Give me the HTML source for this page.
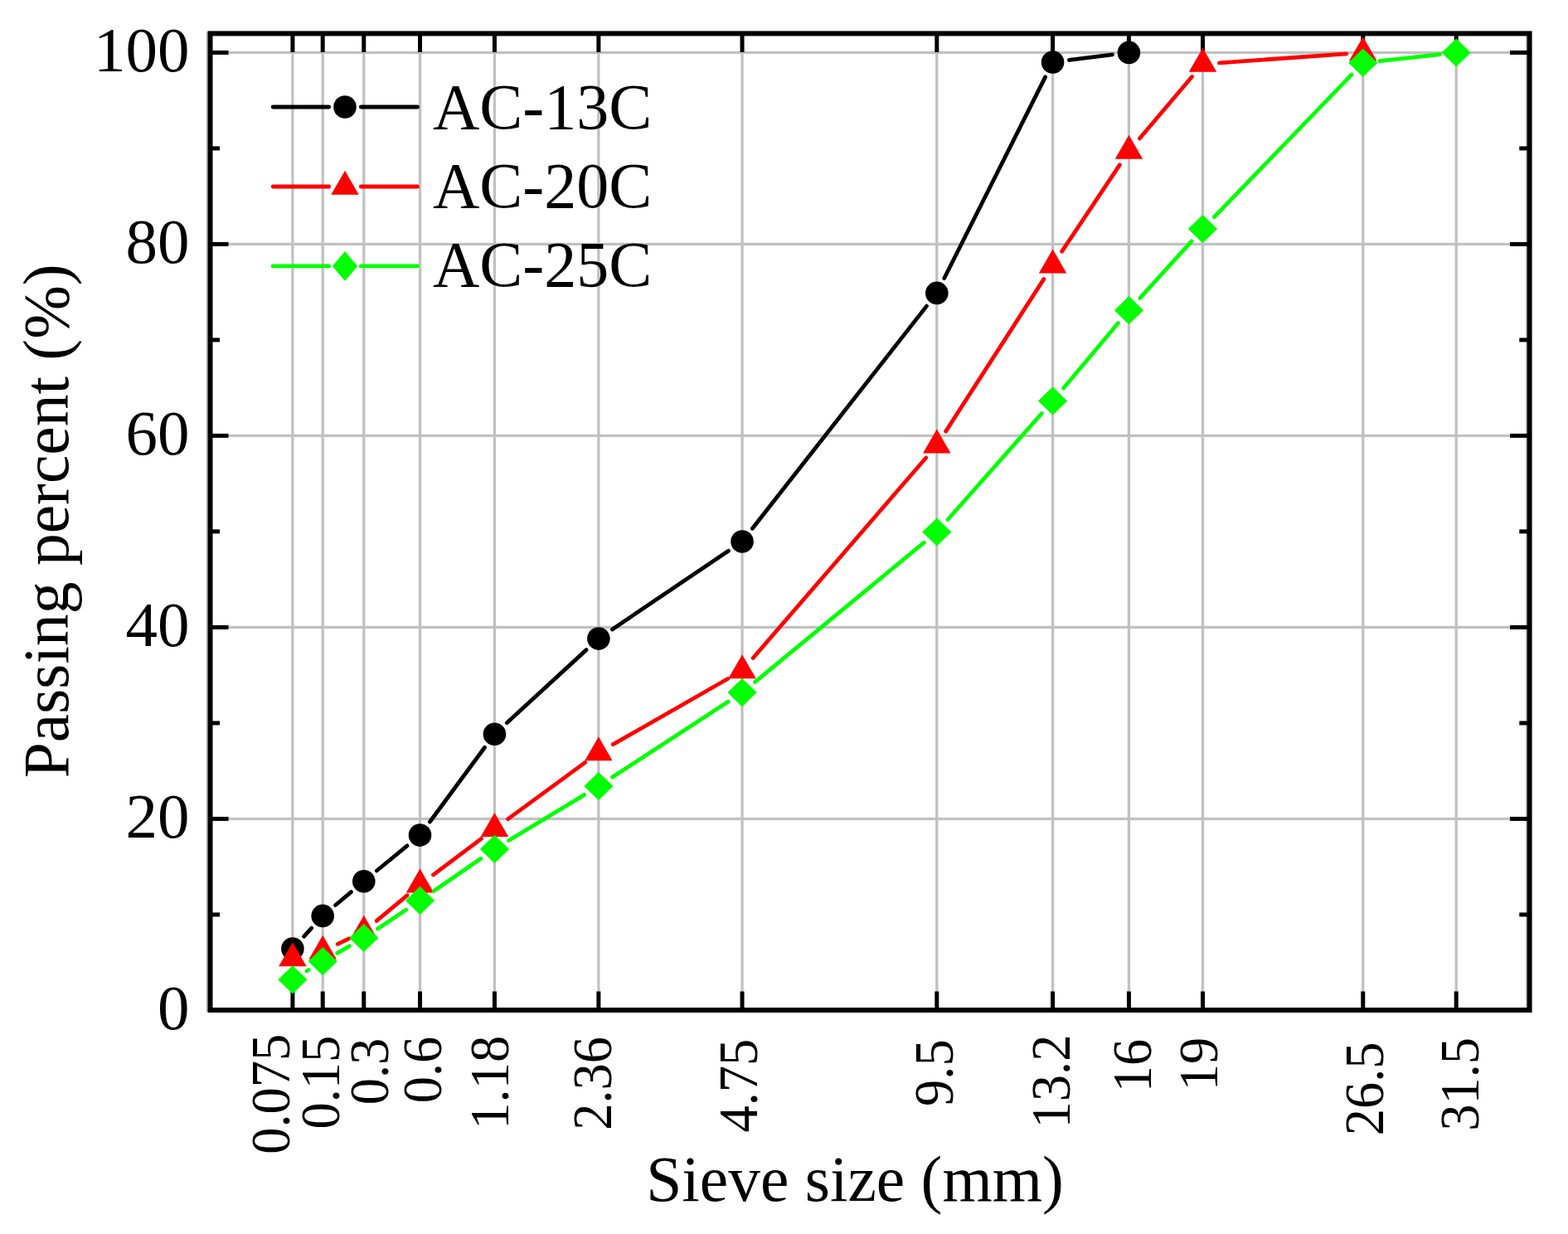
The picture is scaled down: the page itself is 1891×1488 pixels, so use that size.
<!DOCTYPE html>
<html><head><meta charset="utf-8"><title>Gradation curves</title>
<style>
html,body{margin:0;padding:0;background:#fff;}
body{width:1891px;height:1488px;overflow:hidden;}
svg{display:block;}
text{font-family:"Liberation Serif","Times New Roman",serif;fill:#000;}
.yt{font-size:77px;text-anchor:end;}
.xt{font-size:64.5px;text-anchor:end;}
.lg{font-size:78px;}
.ti{font-size:77.5px;}
</style></head><body>
<svg width="1891" height="1488" viewBox="0 0 1891 1488"><rect width="1891" height="1488" fill="#fff"/><g stroke="#c1c1c1" stroke-width="3.3"><line x1="253.5" y1="987.40" x2="1844.6" y2="987.40"/><line x1="253.5" y1="756.40" x2="1844.6" y2="756.40"/><line x1="253.5" y1="525.40" x2="1844.6" y2="525.40"/><line x1="253.5" y1="294.40" x2="1844.6" y2="294.40"/><line x1="253.5" y1="63.40" x2="1844.6" y2="63.40"/><line x1="352.90" y1="40.4" x2="352.90" y2="1218.0"/><line x1="389.20" y1="40.4" x2="389.20" y2="1218.0"/><line x1="438.78" y1="40.4" x2="438.78" y2="1218.0"/><line x1="506.51" y1="40.4" x2="506.51" y2="1218.0"/><line x1="596.44" y1="40.4" x2="596.44" y2="1218.0"/><line x1="721.88" y1="40.4" x2="721.88" y2="1218.0"/><line x1="895.06" y1="40.4" x2="895.06" y2="1218.0"/><line x1="1129.81" y1="40.4" x2="1129.81" y2="1218.0"/><line x1="1269.57" y1="40.4" x2="1269.57" y2="1218.0"/><line x1="1361.43" y1="40.4" x2="1361.43" y2="1218.0"/><line x1="1450.49" y1="40.4" x2="1450.49" y2="1218.0"/><line x1="1643.77" y1="40.4" x2="1643.77" y2="1218.0"/><line x1="1756.20" y1="40.4" x2="1756.20" y2="1218.0"/></g><g stroke="#b8b8b8" stroke-width="1.8"><line x1="249.6" y1="38.4" x2="249.6" y2="1220.0"/><line x1="1841.1" y1="40.4" x2="1841.1" y2="1218.0"/></g><g stroke="#000" stroke-width="5"><line x1="253.5" y1="1218.40" x2="275.5" y2="1218.40"/><line x1="1844.6" y1="1218.40" x2="1821.1" y2="1218.40"/><line x1="253.5" y1="1102.90" x2="265.0" y2="1102.90"/><line x1="1844.6" y1="1102.90" x2="1832.3" y2="1102.90"/><line x1="253.5" y1="987.40" x2="275.5" y2="987.40"/><line x1="1844.6" y1="987.40" x2="1821.1" y2="987.40"/><line x1="253.5" y1="871.90" x2="265.0" y2="871.90"/><line x1="1844.6" y1="871.90" x2="1832.3" y2="871.90"/><line x1="253.5" y1="756.40" x2="275.5" y2="756.40"/><line x1="1844.6" y1="756.40" x2="1821.1" y2="756.40"/><line x1="253.5" y1="640.90" x2="265.0" y2="640.90"/><line x1="1844.6" y1="640.90" x2="1832.3" y2="640.90"/><line x1="253.5" y1="525.40" x2="275.5" y2="525.40"/><line x1="1844.6" y1="525.40" x2="1821.1" y2="525.40"/><line x1="253.5" y1="409.90" x2="265.0" y2="409.90"/><line x1="1844.6" y1="409.90" x2="1832.3" y2="409.90"/><line x1="253.5" y1="294.40" x2="275.5" y2="294.40"/><line x1="1844.6" y1="294.40" x2="1821.1" y2="294.40"/><line x1="253.5" y1="178.90" x2="265.0" y2="178.90"/><line x1="1844.6" y1="178.90" x2="1832.3" y2="178.90"/><line x1="253.5" y1="63.40" x2="275.5" y2="63.40"/><line x1="1844.6" y1="63.40" x2="1821.1" y2="63.40"/><line x1="352.90" y1="40.4" x2="352.90" y2="62.9"/><line x1="352.90" y1="1218.0" x2="352.90" y2="1195.5"/><line x1="389.20" y1="40.4" x2="389.20" y2="62.9"/><line x1="389.20" y1="1218.0" x2="389.20" y2="1195.5"/><line x1="438.78" y1="40.4" x2="438.78" y2="62.9"/><line x1="438.78" y1="1218.0" x2="438.78" y2="1195.5"/><line x1="506.51" y1="40.4" x2="506.51" y2="62.9"/><line x1="506.51" y1="1218.0" x2="506.51" y2="1195.5"/><line x1="596.44" y1="40.4" x2="596.44" y2="62.9"/><line x1="596.44" y1="1218.0" x2="596.44" y2="1195.5"/><line x1="721.88" y1="40.4" x2="721.88" y2="62.9"/><line x1="721.88" y1="1218.0" x2="721.88" y2="1195.5"/><line x1="895.06" y1="40.4" x2="895.06" y2="62.9"/><line x1="895.06" y1="1218.0" x2="895.06" y2="1195.5"/><line x1="1129.81" y1="40.4" x2="1129.81" y2="62.9"/><line x1="1129.81" y1="1218.0" x2="1129.81" y2="1195.5"/><line x1="1269.57" y1="40.4" x2="1269.57" y2="62.9"/><line x1="1269.57" y1="1218.0" x2="1269.57" y2="1195.5"/><line x1="1361.43" y1="40.4" x2="1361.43" y2="62.9"/><line x1="1361.43" y1="1218.0" x2="1361.43" y2="1195.5"/><line x1="1450.49" y1="40.4" x2="1450.49" y2="62.9"/><line x1="1450.49" y1="1218.0" x2="1450.49" y2="1195.5"/><line x1="1643.77" y1="40.4" x2="1643.77" y2="62.9"/><line x1="1643.77" y1="1218.0" x2="1643.77" y2="1195.5"/><line x1="1756.20" y1="40.4" x2="1756.20" y2="62.9"/><line x1="1756.20" y1="1218.0" x2="1756.20" y2="1195.5"/></g><rect x="253.5" y="40.4" width="1591.1" height="1177.6" fill="none" stroke="#000" stroke-width="6"/><g stroke="#000" stroke-width="4.8" stroke-linecap="round"><line x1="366.41" y1="1129.26" x2="375.68" y2="1119.14"/><line x1="404.50" y1="1091.53" x2="423.47" y2="1075.57"/><line x1="454.24" y1="1050.01" x2="491.05" y2="1019.79"/><line x1="518.39" y1="991.01" x2="584.56" y2="901.29"/><line x1="611.17" y1="871.68" x2="707.14" y2="783.62"/><line x1="738.45" y1="758.90" x2="878.49" y2="664.20"/><line x1="907.40" y1="637.26" x2="1117.47" y2="369.14"/><line x1="1138.78" y1="335.53" x2="1260.60" y2="92.87"/><line x1="1289.41" y1="72.49" x2="1341.59" y2="65.91"/></g><g fill="#000"><circle cx="352.90" cy="1144.00" r="13.8"/><circle cx="389.20" cy="1104.40" r="13.8"/><circle cx="438.78" cy="1062.70" r="13.8"/><circle cx="506.51" cy="1007.10" r="13.8"/><circle cx="596.44" cy="885.20" r="13.8"/><circle cx="721.88" cy="770.10" r="13.8"/><circle cx="895.06" cy="653.00" r="13.8"/><circle cx="1129.81" cy="353.40" r="13.8"/><circle cx="1269.57" cy="75.00" r="13.8"/><circle cx="1361.43" cy="63.40" r="13.8"/></g><g stroke="#ff0000" stroke-width="4.8" stroke-linecap="round"><line x1="407.23" y1="1138.35" x2="420.75" y2="1131.85"/><line x1="454.16" y1="1110.42" x2="491.13" y2="1079.68"/><line x1="522.51" y1="1054.89" x2="580.44" y2="1011.41"/><line x1="612.58" y1="987.59" x2="705.74" y2="919.41"/><line x1="739.24" y1="897.67" x2="877.70" y2="818.53"/><line x1="908.14" y1="793.47" x2="1116.73" y2="552.03"/><line x1="1140.64" y1="520.08" x2="1258.75" y2="336.62"/><line x1="1280.68" y1="303.17" x2="1350.32" y2="198.83"/><line x1="1374.36" y1="166.95" x2="1437.55" y2="92.45"/><line x1="1470.44" y1="75.79" x2="1623.82" y2="64.91"/></g><g fill="#ff0000"><polygon points="352.90,1136.16 369.65,1165.17 336.15,1165.17"/><polygon points="389.20,1127.66 405.95,1156.67 372.45,1156.67"/><polygon points="438.78,1103.86 455.53,1132.87 422.03,1132.87"/><polygon points="506.51,1047.56 523.26,1076.57 489.76,1076.57"/><polygon points="596.44,980.06 613.19,1009.07 579.69,1009.07"/><polygon points="721.88,888.26 738.63,917.27 705.13,917.27"/><polygon points="895.06,789.26 911.81,818.27 878.31,818.27"/><polygon points="1129.81,517.56 1146.56,546.57 1113.06,546.57"/><polygon points="1269.57,300.46 1286.32,329.47 1252.82,329.47"/><polygon points="1361.43,162.86 1378.18,191.87 1344.68,191.87"/><polygon points="1450.49,57.86 1467.24,86.87 1433.74,86.87"/><polygon points="1643.77,44.16 1660.52,73.17 1627.02,73.17"/></g><g stroke="#00ff00" stroke-width="4.8" stroke-linecap="round"><line x1="369.98" y1="1170.90" x2="372.11" y2="1169.60"/><line x1="406.58" y1="1149.31" x2="421.40" y2="1140.89"/><line x1="455.43" y1="1119.92" x2="489.87" y2="1096.98"/><line x1="522.98" y1="1074.55" x2="579.97" y2="1035.25"/><line x1="613.55" y1="1013.55" x2="704.77" y2="958.35"/><line x1="738.63" y1="937.08" x2="878.31" y2="846.02"/><line x1="910.49" y1="822.38" x2="1114.38" y2="654.22"/><line x1="1143.06" y1="626.52" x2="1256.32" y2="498.48"/><line x1="1282.44" y1="468.19" x2="1348.56" y2="389.51"/><line x1="1374.87" y1="359.39" x2="1437.04" y2="290.91"/><line x1="1464.37" y1="261.70" x2="1629.89" y2="90.10"/><line x1="1663.65" y1="73.54" x2="1736.32" y2="65.66"/></g><g fill="#00ff00"><polygon points="352.90,1164.20 370.50,1181.30 352.90,1198.40 335.30,1181.30"/><polygon points="389.20,1142.10 406.80,1159.20 389.20,1176.30 371.60,1159.20"/><polygon points="438.78,1113.90 456.38,1131.00 438.78,1148.10 421.18,1131.00"/><polygon points="506.51,1068.80 524.11,1085.90 506.51,1103.00 488.91,1085.90"/><polygon points="596.44,1006.80 614.04,1023.90 596.44,1041.00 578.84,1023.90"/><polygon points="721.88,930.90 739.48,948.00 721.88,965.10 704.28,948.00"/><polygon points="895.06,818.00 912.66,835.10 895.06,852.20 877.46,835.10"/><polygon points="1129.81,624.40 1147.41,641.50 1129.81,658.60 1112.21,641.50"/><polygon points="1269.57,466.40 1287.17,483.50 1269.57,500.60 1251.97,483.50"/><polygon points="1361.43,357.10 1379.03,374.20 1361.43,391.30 1343.83,374.20"/><polygon points="1450.49,259.00 1468.09,276.10 1450.49,293.20 1432.89,276.10"/><polygon points="1643.77,58.60 1661.37,75.70 1643.77,92.80 1626.17,75.70"/><polygon points="1756.20,46.40 1773.80,63.50 1756.20,80.60 1738.60,63.50"/></g><g stroke="#000" stroke-width="4.8" stroke-linecap="round"><line x1="329.2" y1="129.0" x2="396.7" y2="129.0"/><line x1="435.3" y1="129.0" x2="503.6" y2="129.0"/></g><g fill="#000"><circle cx="416.00" cy="129.00" r="13.8"/></g><text x="522" y="154.5" class="lg">AC-13C</text><g stroke="#ff0000" stroke-width="4.8" stroke-linecap="round"><line x1="329.2" y1="225.0" x2="396.7" y2="225.0"/><line x1="435.3" y1="225.0" x2="503.6" y2="225.0"/></g><g fill="#ff0000"><polygon points="416.00,205.66 432.75,234.67 399.25,234.67"/></g><text x="522" y="249.8" class="lg">AC-20C</text><g stroke="#00ff00" stroke-width="4.8" stroke-linecap="round"><line x1="329.2" y1="320.9" x2="396.7" y2="320.9"/><line x1="435.3" y1="320.9" x2="503.6" y2="320.9"/></g><g fill="#00ff00"><polygon points="416.00,303.10 431.20,320.90 416.00,338.70 400.80,320.90"/></g><text x="522" y="345.1" class="lg">AC-25C</text><text x="228.4" y="1240.70" class="yt">0</text><text x="228.4" y="1009.70" class="yt">20</text><text x="228.4" y="778.70" class="yt">40</text><text x="228.4" y="547.70" class="yt">60</text><text x="228.4" y="316.70" class="yt">80</text><text x="228.4" y="85.70" class="yt">100</text><text transform="translate(348.7,1246.7) rotate(-90) scale(1,1.035)" class="xt">0.075</text><text transform="translate(408.8,1248.7) rotate(-90) scale(1,1.035)" class="xt">0.15</text><text transform="translate(467.6,1251.7) rotate(-90) scale(1,1.035)" class="xt">0.3</text><text transform="translate(532.0,1249.7) rotate(-90) scale(1,1.035)" class="xt">0.6</text><text transform="translate(612.9,1248.8) rotate(-90) scale(1,1.035)" class="xt">1.18</text><text transform="translate(737.4,1249.9) rotate(-90) scale(1,1.035)" class="xt">2.36</text><text transform="translate(912.6,1252.7) rotate(-90) scale(1,1.035)" class="xt">4.75</text><text transform="translate(1149.4,1253.3) rotate(-90) scale(1,1.035)" class="xt">9.5</text><text transform="translate(1289.8,1247.6) rotate(-90) scale(1,1.035)" class="xt">13.2</text><text transform="translate(1387.6,1252.7) rotate(-90) scale(1,1.035)" class="xt">16</text><text transform="translate(1468.2,1250.7) rotate(-90) scale(1,1.035)" class="xt">19</text><text transform="translate(1668.4,1256.5) rotate(-90) scale(1,1.035)" class="xt">26.5</text><text transform="translate(1783.0,1250.9) rotate(-90) scale(1,1.035)" class="xt">31.5</text><text transform="translate(82,938.3) rotate(-90)" class="ti">Passing percent (%)</text><text x="779.2" y="1447.5" class="ti">Sieve size (mm)</text></svg>
</body></html>
